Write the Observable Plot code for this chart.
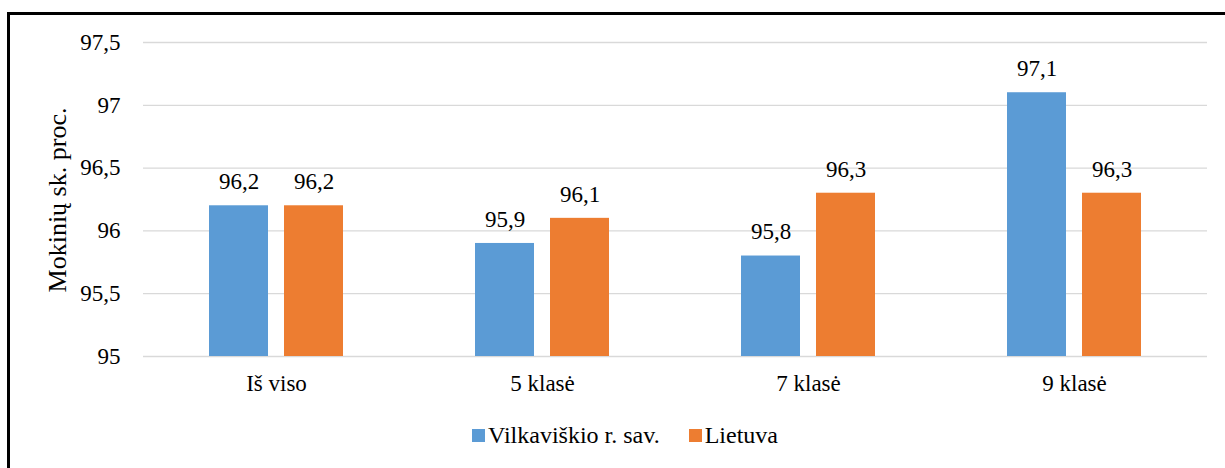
<!DOCTYPE html>
<html>
<head>
<meta charset="utf-8">
<script src="https://cdn.jsdelivr.net/npm/d3@7"></script>
<script src="https://cdn.jsdelivr.net/npm/@observablehq/plot@0.6"></script>
<style>
  html, body { margin: 0; padding: 0; background: #fff; }
  #wrap { position: relative; width: 1225px; height: 468px; overflow: hidden; font-family: "Liberation Serif", "Times New Roman", serif; color: #000; }
  #frame { position: absolute; left: 7px; top: 12px; width: 1400px; height: 600px; border: 3px solid #000; box-sizing: border-box; }
  #chart { position: absolute; left: 0; top: 0; }
  #ylabel { position: absolute; left: 58px; top: 200px; transform: translate(-50%, -50%) rotate(-90deg); font-size: 26px; white-space: nowrap; line-height: 1; }
  #legend { position: absolute; left: 472px; top: 422px; display: flex; align-items: center; font-size: 24px; white-space: nowrap; }
  #legend .item { display: flex; align-items: center; margin-right: 29px; }
  #legend .sw { width: 13px; height: 13px; margin-right: 3px; }
</style>
</head>
<body>
<div id="wrap">
  <div id="frame"></div>
  <div id="chart"></div>
  <div id="ylabel"></div>
  <div id="legend"></div>
</div>
<script>
const categories = ["Iš viso", "5 klasė", "7 klasė", "9 klasė"];
const series = ["Vilkaviškio r. sav.", "Lietuva"];
const vilkaviskis = [96.2, 95.9, 95.8, 97.1];
const lietuva = [96.2, 96.1, 96.3, 96.3];
const yTicks = [95, 95.5, 96, 96.5, 97, 97.5];
const colors = ["#5b9bd5", "#ed7d31"];
const yLabel = "Mokinių sk. proc.";

const seriesValues = [vilkaviskis, lietuva];
const rows = [];
categories.forEach((c, i) => {
  series.forEach((s, j) => rows.push({cat: c, series: s, value: seriesValues[j][i]}));
});
const fmt = v => String(v).replace(".", ",");
const fontFamily = '"Liberation Serif", "Times New Roman", serif';

const chart = Plot.plot({
  width: 1225,
  height: 400,
  marginLeft: 142,
  marginRight: 17,
  marginTop: 42,
  marginBottom: 44,
  style: {fontFamily, fontSize: "23px", color: "#000", background: "transparent", overflow: "visible"},
  fx: {domain: categories, padding: 0, label: null, axis: "bottom", tickSize: 0, tickPadding: 18},
  x: {domain: series, paddingInner: 0.212, paddingOuter: 0.871, axis: null},
  y: {domain: [yTicks[0], yTicks[yTicks.length - 1]], ticks: yTicks, tickFormat: fmt, tickSize: 0, tickPadding: 23,
      label: null},
  color: {domain: series, range: colors},
  marks: [
    Plot.ruleY(yTicks, {stroke: "#d9d9d9", strokeWidth: 1.3}),
    Plot.barY(rows, {fx: "cat", x: "series", y1: yTicks[0], y2: "value", fill: "series"}),
    Plot.text(rows, {fx: "cat", x: "series", y: "value", text: d => fmt(d.value), dy: -24, fontSize: 23, fill: "#000"})
  ]
});
document.getElementById("chart").appendChild(chart);
document.getElementById("ylabel").textContent = yLabel;

const legend = document.getElementById("legend");
series.forEach((s, i) => {
  const item = document.createElement("div");
  item.className = "item";
  const sw = document.createElement("span");
  sw.className = "sw";
  sw.style.background = colors[i];
  const t = document.createElement("span");
  t.textContent = s;
  item.appendChild(sw);
  item.appendChild(t);
  legend.appendChild(item);
});
</script>
</body>
</html>
